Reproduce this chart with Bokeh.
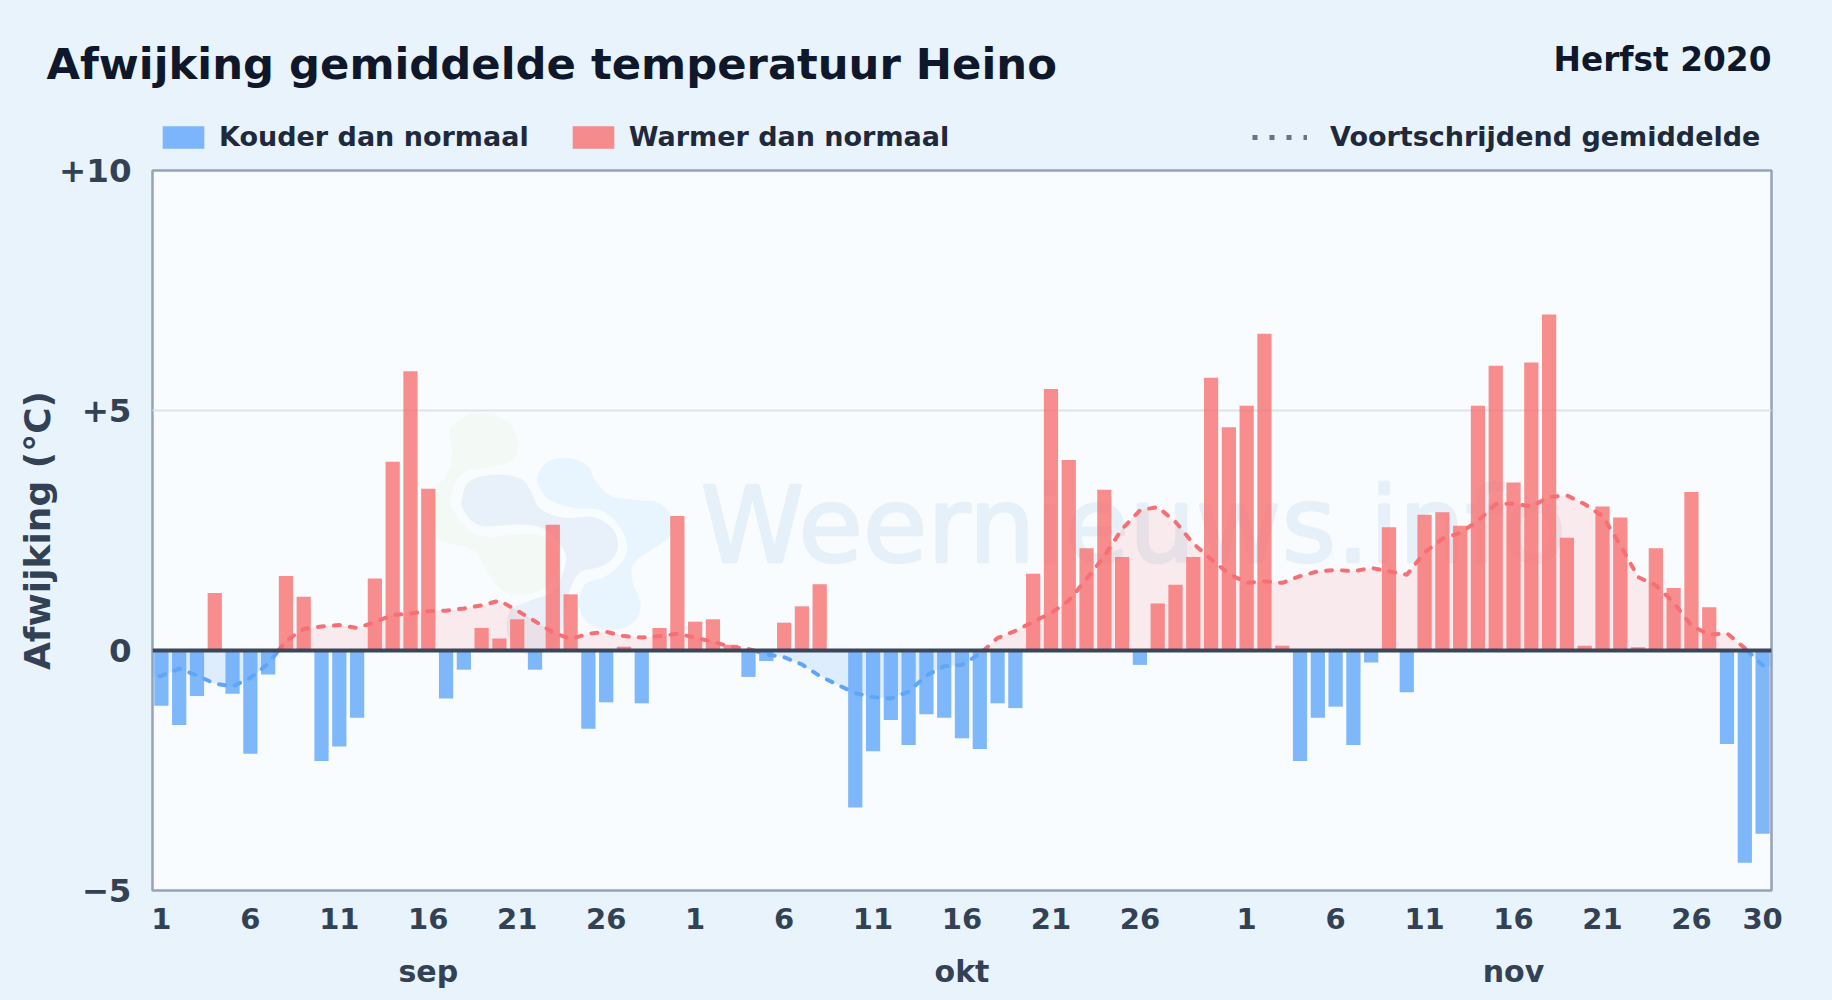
import numpy as np
from bokeh.embed import file_html
from bokeh.layouts import column
from bokeh.resources import INLINE
from bokeh.plotting import figure
from bokeh.models import (ColumnDataSource, FixedTicker, Legend, LegendItem,
                          LinearAxis, Range1d, Span)

FONT = "DejaVu Sans"

TITLE = "Afwijking gemiddelde temperatuur Heino"
SUBTITLE = "Herfst 2020"
WATERMARK = "Weernieuws.info"

sep = [-1.15, -1.55, -0.95, 1.2, -0.9, -2.15, -0.5, 1.55, 1.12, -2.3,
       -2.0, -1.4, 1.5, 3.93, 5.82, 3.37, -1.0, -0.4, 0.47, 0.25,
       0.65, -0.4, 2.62, 1.17, -1.63, -1.08, 0.08, -1.1, 0.47, 2.8]
okt = [0.6, 0.65, 0.12, -0.55, -0.22, 0.58, 0.92, 1.38, 0.0, -3.27,
       -2.1, -1.45, -1.97, -1.33, -1.4, -1.83, -2.05, -1.1, -1.2, 1.6,
       5.45, 3.97, 2.13, 3.35, 1.95, -0.3, 0.98, 1.37, 1.95, 5.68, 4.65]
nov = [5.1, 6.6, 0.1, -2.3, -1.4, -1.17, -1.97, -0.25, 2.57, -0.87,
       2.83, 2.88, 2.6, 5.1, 5.93, 3.5, 6.0, 7.0, 2.35, 0.1,
       3.0, 2.77, 0.07, 2.13, 1.3, 3.3, 0.9, -1.95, -4.42, -3.82]

# moving average, one value per day; first and last fall just outside the axis
ma_before = [-0.57]
ma_sep = [-0.53, -0.38, -0.52, -0.69, -0.75, -0.57, -0.28, 0.2, 0.45, 0.5,
          0.53, 0.47, 0.59, 0.74, 0.77, 0.82, 0.83, 0.875, 0.94, 1.04,
          0.83, 0.61, 0.38, 0.24, 0.35, 0.39, 0.3, 0.27, 0.3, 0.35]
ma_okt = [0.27, 0.18, 0.08, 0.03, -0.08, -0.14, -0.29, -0.53, -0.71, -0.89,
          -0.97, -1.0, -0.86, -0.52, -0.33, -0.3, -0.07, 0.26, 0.41, 0.6,
          0.78, 1.04, 1.49, 1.97, 2.53, 2.92, 2.99, 2.68, 2.23, 1.9, 1.6]
ma_nov = [1.41, 1.44, 1.41, 1.55, 1.65, 1.68, 1.65, 1.72, 1.65, 1.58,
          2.04, 2.33, 2.45, 2.7, 3.05, 3.06, 3.0, 3.2, 3.23, 3.05,
          2.8, 2.2, 1.53, 1.36, 1.0, 0.52, 0.33, 0.36, 0.05, -0.31]
ma_after = [-0.3]

x_tick_days = [1, 6, 11, 16, 21, 26]
y_ticks = [-5, 0, 5, 10]
y_labels = ["\u22125", "0", "+5", "+10"]
months = ["sep", "okt", "nov"]
legend_labels = ["Kouder dan normaal", "Warmer dan normaal", "Voortschrijdend gemiddelde"]

dev = np.array(sep + okt + nov, dtype=float)
ma = np.array(ma_before + ma_sep + ma_okt + ma_nov + ma_after, dtype=float)
idx = np.arange(len(dev))
ma_x = np.arange(len(ma)) - 1.0

n_sep, n_okt = len(sep), len(okt)
ticks, overrides = [], {}
for offset, days in ((0, x_tick_days), (n_sep, x_tick_days), (n_sep + n_okt, x_tick_days + [30])):
    for d in days:
        ticks.append(offset + d - 1)
        overrides[offset + d - 1] = str(d)
month_ticks = [15, n_sep + 15, n_sep + n_okt + 15]

BG = "#e8f3fc"
W, H = 1832, 1000
HEAD = 160
OVERLAP = 10
L, R, T, B = 152, W - 1771, 20, H - 890

# ---- header strip: title, subtitle, legends
head = figure(width=W, height=HEAD, output_backend="svg", toolbar_location=None,
              x_range=Range1d(0, W), y_range=Range1d(HEAD, 0),
              min_border=0, min_border_left=0, min_border_right=0, min_border_top=0, min_border_bottom=0,
              background_fill_color=BG, border_fill_color=BG, outline_line_color=None,
              frame_align=False)
head.xaxis.visible = False
head.yaxis.visible = False
head.grid.visible = False

k_cold = head.vbar(x=[np.nan], top=[np.nan], bottom=0, width=1, fill_color="#60a5fa", fill_alpha=0.8, line_color=None)
k_warm = head.vbar(x=[np.nan], top=[np.nan], bottom=0, width=1, fill_color="#f87171", fill_alpha=0.8, line_color=None)
k_avg = head.line([np.nan], [np.nan], line_color="#64748b", line_width=5, line_dash="5 12")
legend_style = dict(orientation="horizontal", background_fill_alpha=0, border_line_color=None,
                    padding=0, margin=0, spacing=38, label_text_font=FONT,
                    label_text_font_style="bold", label_text_font_size="27px",
                    label_text_color="#1e293b")
leg1 = Legend(items=[LegendItem(label=legend_labels[0], renderers=[k_cold]),
                     LegendItem(label=legend_labels[1], renderers=[k_warm])],
              location=(157, HEAD - 152), glyph_width=52, glyph_height=28, label_standoff=10, **legend_style)
leg2 = Legend(items=[LegendItem(label=legend_labels[2], renderers=[k_avg])],
              location=(1252, HEAD - 152), glyph_width=55, glyph_height=28, label_standoff=23, **legend_style)
head.add_layout(leg1, "center")
head.add_layout(leg2, "center")
head.text(x=[46], y=[63], text=[TITLE], text_font={"value": FONT}, text_font_style="bold", text_font_size="43.3px",
          text_color="#0f172a", text_baseline="alphabetic")
head.text(x=[1771], y=[59], text=[SUBTITLE], text_font={"value": FONT}, text_font_style="bold", text_font_size="32.8px",
          text_color="#0f172a", text_align="right", text_baseline="alphabetic")

# ---- main chart
p = figure(width=W, height=H - HEAD + OVERLAP, output_backend="svg", toolbar_location=None,
           x_range=Range1d(-0.5, len(dev) - 0.5), y_range=Range1d(-5, 10),
           min_border_left=L, min_border_right=R, min_border_top=T, min_border_bottom=B,
           background_fill_color="#f8fcff", border_fill_color=None,
           outline_line_color="#94a3b8", outline_line_width=2.5, frame_align=False,
           margin=(-OVERLAP, 0, 0, 0))

p.xgrid.visible = False
p.ygrid.ticker = FixedTicker(ticks=[5])
p.ygrid.grid_line_color = "#dde3ea"
p.ygrid.grid_line_width = 2

ax = p.xaxis[0]
ax.ticker = FixedTicker(ticks=ticks)
ax.major_label_overrides = overrides
ax.axis_line_color = None
ax.major_tick_line_color = None
ax.minor_tick_line_color = None
ax.major_label_standoff = 11
ax.major_label_text_font = FONT
ax.major_label_text_font_style = "bold"
ax.major_label_text_font_size = "29px"
ax.major_label_text_color = "#334155"

mx = LinearAxis(ticker=FixedTicker(ticks=month_ticks),
                major_label_overrides=dict(zip(month_ticks, months)))
mx.axis_line_color = None
mx.major_tick_line_color = None
mx.minor_tick_line_color = None
mx.major_label_standoff = 16
mx.major_label_text_font = FONT
mx.major_label_text_font_style = "bold"
mx.major_label_text_font_size = "30px"
mx.major_label_text_color = "#334155"
p.add_layout(mx, "below")

ay = p.yaxis[0]
ay.ticker = FixedTicker(ticks=y_ticks)
ay.major_label_overrides = dict(zip(y_ticks, y_labels))
ay.axis_line_color = None
ay.major_tick_line_color = None
ay.minor_tick_line_color = None
ay.major_label_standoff = 15
ay.major_label_text_font = FONT
ay.major_label_text_font_style = "bold"
ay.major_label_text_font_size = "32.5px"
ay.major_label_text_color = "#334155"
ay.axis_label = "Afwijking (\u00b0C)"
ay.axis_label_standoff = -2
ay.axis_label_text_font = FONT
ay.axis_label_text_font_style = "bold"
ay.axis_label_text_font_size = "36px"
ay.axis_label_text_color = "#334155"


# ---- watermark (pale decoration behind the data)
def px2data(zx, zy):
    fx = 430 + np.asarray(zx, dtype=float) / 3
    fy = 400 + np.asarray(zy, dtype=float) / 3
    per_day = (1771 - 152) / len(dev)
    return (fx - 152) / per_day - 0.5, (650 - fy) / 48


def smooth(points, k=10):
    pts = np.array(points, dtype=float)
    out = []
    n = len(pts)
    for i in range(n):
        a, b, c, d = pts[i - 1], pts[i], pts[(i + 1) % n], pts[(i + 2) % n]
        for t in np.linspace(0, 1, k, endpoint=False):
            out.append(0.5 * (2 * b + (c - a) * t + (2 * a - 5 * b + 4 * c - d) * t ** 2
                              + (3 * b - a - 3 * c + d) * t ** 3))
    out = np.array(out)
    return px2data(out[:, 0], out[:, 1])


logo_green = [(60, 85), (110, 45), (180, 40), (240, 70), (262, 130), (245, 180), (170, 200),
              (110, 212), (75, 245), (60, 300), (80, 350), (125, 395), (180, 410), (270, 400),
              (330, 405), (372, 440), (385, 490), (360, 545), (300, 580), (220, 572), (175, 520),
              (130, 450), (60, 430), (10, 400), (0, 290), (50, 220), (65, 160)]
logo_grey = [(95, 290), (120, 240), (200, 222), (270, 235), (300, 270), (330, 325), (400, 352),
             (490, 350), (550, 390), (560, 450), (520, 495), (450, 515), (420, 565), (400, 640),
             (390, 700), (340, 755), (270, 755), (230, 700), (240, 630), (300, 600), (370, 570),
             (405, 490), (395, 440), (340, 385), (270, 372), (150, 375), (100, 330)]
logo_blue = [(320, 230), (350, 185), (410, 172), (470, 195), (495, 240), (540, 285), (610, 298),
             (680, 305), (720, 345), (715, 410), (660, 450), (610, 490), (605, 540), (630, 610),
             (610, 665), (540, 690), (470, 665), (445, 610), (465, 550), (520, 530), (570, 490),
             (590, 440), (565, 375), (510, 330), (430, 322), (360, 300), (330, 265)]
for shape, col in ((logo_green, "#f3f9f5"), (logo_blue, "#e9f5fe"), (logo_grey, "#e8f0f9")):
    lx, ly = smooth(shape)
    p.patch(lx, ly, fill_color=col, line_color=None, level="underlay")

per_px_x = len(dev) / (1771 - 152)
p.text(x=[(700 - 152) * per_px_x - 0.5], y=[(650 - 525) / 48], text=[WATERMARK],
       text_font={"value": FONT}, text_font_size="105px", text_color="#e6f0f9",
       outline_color="#e6f0f9", text_baseline="alphabetic", level="underlay")

# ---- moving-average area and line, split at zero
xs, ys = [ma_x[0]], [ma[0]]
for i in range(1, len(ma)):
    if ma[i - 1] * ma[i] < 0:
        t = ma[i - 1] / (ma[i - 1] - ma[i])
        xs.append(ma_x[i - 1] + t)
        ys.append(0.0)
    xs.append(ma_x[i])
    ys.append(ma[i])
xs, ys = np.array(xs), np.array(ys)

p.varea(xs, np.zeros_like(ys), np.maximum(ys, 0), fill_color="#f87171", fill_alpha=0.13)
p.varea(xs, np.zeros_like(ys), np.minimum(ys, 0), fill_color="#60a5fa", fill_alpha=0.17)

# ---- bars
src_cold = ColumnDataSource(dict(x=idx[dev < 0], top=dev[dev < 0]))
src_warm = ColumnDataSource(dict(x=idx[dev >= 0], top=dev[dev >= 0]))
p.vbar(x="x", top="top", bottom=0, width=0.8, source=src_cold,
       fill_color="#60a5fa", fill_alpha=0.8, line_color=None)
p.vbar(x="x", top="top", bottom=0, width=0.8, source=src_warm,
       fill_color="#f87171", fill_alpha=0.8, line_color=None)

p.add_layout(Span(location=0, dimension="width", line_color="#3a465a", line_width=4, level="glyph"))

start = 0
for i in range(1, len(xs) + 1):
    if i == len(xs) or (ys[i] == 0):
        end = min(i, len(xs) - 1)
        mid = ys[start:end + 1]
        warm = mid[np.abs(mid).argmax()] > 0
        p.line(xs[start:end + 1], mid, line_color="#f56f74" if warm else "#5fa5f8",
               line_width=4, line_dash="6 10", line_cap="round", line_join="round")
        start = end

page = file_html(column(head, p, spacing=0), INLINE)
page = page.replace("</head>", "<style>html,body{margin:0;background:%s;overflow:hidden}</style></head>" % BG, 1)
open("out.html", "w").write(page)
